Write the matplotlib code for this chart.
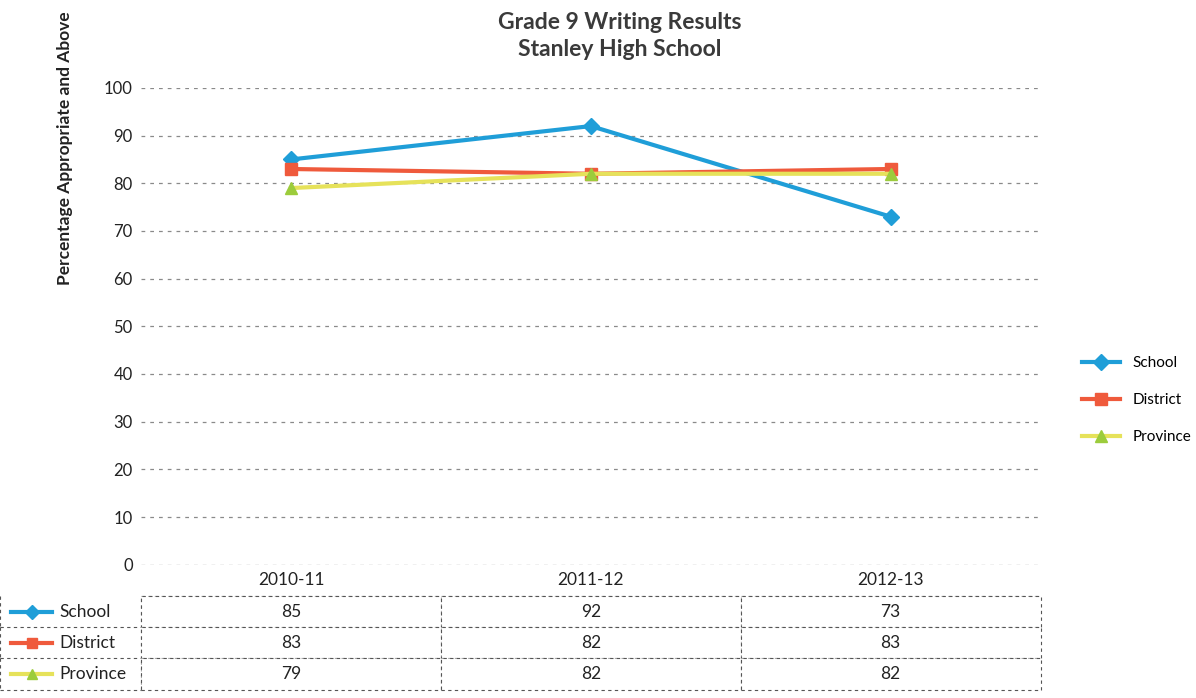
import numpy as np
import matplotlib.pyplot as plt
from matplotlib.lines import Line2D

plt.rcParams['font.family'] = ['Lato', 'DejaVu Sans']

years = ["2010-11", "2011-12", "2012-13"]
names = ["School", "District", "Province"]
school = [85, 92, 73]
district = [83, 82, 83]
province = [79, 82, 82]
yticks = list(range(0, 101, 10))

colors = ["#1f9ed8", "#ef5a3c", "#e6e25a"]
mcolors = ["#1f9ed8", "#ef5a3c", "#9ccc3c"]
markers = ["D", "s", "^"]
series = [school, district, province]

fig = plt.figure(figsize=(11.96, 6.98), dpi=100)
ax = fig.add_axes([0.118, 0.191, 0.752, 0.683])

x = np.arange(len(years))
for vals, c, mc, m, nm in zip(series, colors, mcolors, markers, names):
    ax.plot(x, vals, color=c, lw=3, marker=m, ms=8, mfc=mc, mec=mc, label=nm)

ax.set_xlim(-0.5, len(years) - 0.5)
ax.set_ylim(0, 100)
ax.set_yticks(yticks)
ax.set_xticks([])
ax.tick_params(axis='y', length=0, labelsize=12, pad=6, labelcolor='#222222')
ax.grid(axis='y', color='#8a8a8a', lw=0.9, ls=(0, (3, 4)))
ax.set_axisbelow(True)
for s in ax.spines.values():
    s.set_visible(False)

# title and y label
fig.text(0.518, 0.983, "Grade 9 Writing Results\nStanley High School", ha='center', va='top',
         fontsize=16.5, fontweight='bold', color='#3a3a3a', linespacing=1.35)
fig.text(0.054, 0.787, "Percentage Appropriate and Above", rotation=90, ha='center', va='center',
         fontsize=12.5, fontweight='bold', color='#222222')

# data table below the plot
lab_w = 141 / 900
tab_h = 0.262
cell_text = [[""] + years] + [[""] + [str(v) for v in vals] for vals in series]
tab = ax.table(cellText=cell_text, cellLoc='center',
               colWidths=[lab_w] + [1 / 3] * 3,
               bbox=[-lab_w, -tab_h, 1 + lab_w, tab_h])
tab.auto_set_font_size(False)
tab.set_fontsize(12.5)
for (r, c), cell in tab.get_celld().items():
    cell.set_edgecolor('#555555')
    cell.set_linestyle((0, (3, 3)))
    cell.set_linewidth(0.8)
    cell.get_text().set_color('#222222')
    if c == 0:
        cell.visible_edges = 'LRB' if r > 0 else 'R'
    if r == 0:
        cell.visible_edges = 'B' if c > 0 else ''

row_h = tab_h / 4
for i, (nm, c, mc, m) in enumerate(zip(names, colors, mcolors, markers)):
    yc = -row_h * (i + 1.5)
    ax.add_line(Line2D([-lab_w + 0.012, -lab_w + 0.058], [yc, yc], transform=ax.transAxes,
                       color=c, lw=3, clip_on=False))
    ax.add_line(Line2D([-lab_w + 0.035], [yc], transform=ax.transAxes, marker=m, ms=7,
                       color=mc, clip_on=False))
    ax.text(-lab_w + 0.066, yc, nm, transform=ax.transAxes, ha='left', va='center',
            fontsize=12.5, color='#222222')

fig.legend(loc='center left', bbox_to_anchor=(0.893, 0.427), frameon=False,
           fontsize=11, handlelength=2.5, labelspacing=1.5)

fig.savefig("out.png", dpi=100)
